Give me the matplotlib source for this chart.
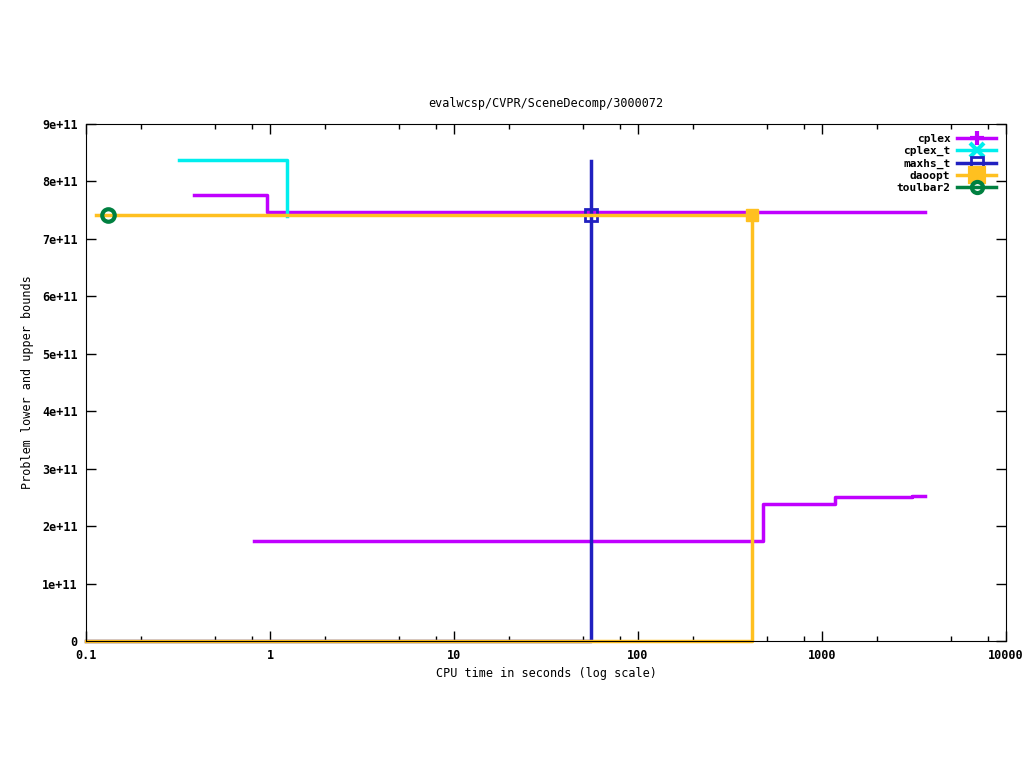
import matplotlib
matplotlib.use("Agg")
import matplotlib.pyplot as plt
from matplotlib.lines import Line2D
from matplotlib.ticker import FixedLocator, NullFormatter, LogLocator

plt.rcParams['font.family'] = ['DejaVu Sans Mono']
plt.rcParams['font.size'] = 8

# data (time in s, bound value)
cplex_ub_t = [0.386, 0.96, 3630]
cplex_ub_v = [7.76e11, 7.47e11, 7.47e11]
cplex_lb_t = [0.82, 479, 1178, 3083, 3630]
cplex_lb_v = [1.74e11, 2.385e11, 2.507e11, 2.52e11, 2.52e11]

cplex_t_t = [0.32, 1.24]
cplex_t_v = [8.37e11, 7.40e11]

maxhs_lb_t = [0.1, 55.5]
maxhs_lb_v = [0, 7.42e11]
maxhs_ub_t = [55.5, 55.5]
maxhs_ub_v = [8.36e11, 7.42e11]

daoopt_ub_t = [0.113, 417]
daoopt_ub_v = [7.42e11, 7.42e11]
daoopt_lb_t = [0.1, 417]
daoopt_lb_v = [0, 7.42e11]

toulbar2_t = [0.132]
toulbar2_v = [7.42e11]

names = ['cplex', 'cplex_t', 'maxhs_t', 'daoopt', 'toulbar2']
colors = ['#c000ff', '#00eeee', '#2020c0', '#ffc020', '#008040']
markers = ['+', 'x', 's', 's', 'o']

fig = plt.figure(figsize=(10.24, 7.68), dpi=100)
ax = fig.add_axes([86/1024, 127/768, 920/1024, 517/768])
lw = 2.5

ax.plot(cplex_ub_t, cplex_ub_v, drawstyle='steps-post', color=colors[0], lw=lw)
ax.plot(cplex_lb_t, cplex_lb_v, drawstyle='steps-post', color=colors[0], lw=lw)
ax.plot(cplex_t_t, cplex_t_v, drawstyle='steps-post', color=colors[1], lw=lw)
ax.plot(maxhs_lb_t, maxhs_lb_v, drawstyle='steps-post', color=colors[2], lw=lw, clip_on=False)
ax.plot(maxhs_ub_t, maxhs_ub_v, color=colors[2], lw=lw)
ax.plot(maxhs_ub_t[-1:], maxhs_ub_v[-1:], marker='s', ms=8, mfc='none', mec=colors[2], mew=2, ls='none')
ax.plot(daoopt_lb_t, daoopt_lb_v, drawstyle='steps-post', color=colors[3], lw=lw, clip_on=False)
ax.plot(daoopt_ub_t, daoopt_ub_v, color=colors[3], lw=lw)
ax.plot(daoopt_ub_t[-1:], daoopt_ub_v[-1:], marker='s', ms=9, color=colors[3], ls='none')
ax.plot(toulbar2_t, toulbar2_v, marker='o', ms=9, mfc='none', mec=colors[4], mew=3, ls='none')

ax.set_xscale('log')
ax.set_xlim(0.1, 10000)
ax.set_ylim(0, 9e11)
ax.xaxis.set_major_locator(FixedLocator([0.1, 1, 10, 100, 1000, 10000]))
ax.set_xticklabels(['0.1', '1', '10', '100', '1000', '10000'])
ax.xaxis.set_minor_locator(LogLocator(base=10, subs=[2, 5, 8], numticks=20))
ax.xaxis.set_minor_formatter(NullFormatter())
yt = [i * 1e11 for i in range(10)]
ax.set_yticks(yt)
ax.set_yticklabels(['0'] + ['%de+11' % i for i in range(1, 10)])
ax.tick_params(which='both', direction='in', top=True, right=True, width=1)
ax.tick_params(which='major', length=7, pad=6, labelsize=8.5)
ax.tick_params(which='minor', length=3.5)
for lab in ax.get_xticklabels() + ax.get_yticklabels():
    lab.set_fontweight('bold')

ax.set_title('evalwcsp/CVPR/SceneDecomp/3000072', fontsize=8.5, pad=12)
ax.set_xlabel('CPU time in seconds (log scale)', fontsize=8.5, labelpad=3)
ax.set_ylabel('Problem lower and upper bounds', fontsize=8.5, labelpad=6)

handles = []
for n, c, m in zip(names, colors, markers):
    if m == 's' and n == 'maxhs_t':
        h = Line2D([], [], color=c, lw=lw, marker=m, ms=8, mfc='none', mec=c, mew=2)
    elif m == 'o':
        h = Line2D([], [], color=c, lw=lw, marker=m, ms=8, mfc='none', mec=c, mew=3)
    else:
        h = Line2D([], [], color=c, lw=lw, marker=m, ms=10, mew=3)
    handles.append(h)
ax.legend(handles, names, loc='upper right', frameon=False, markerfirst=False,
          handlelength=3.5, handletextpad=0.6, labelspacing=0.2, borderaxespad=0.5,
          prop={'weight': 'bold', 'size': 8})

fig.savefig('out.png', dpi=100)
